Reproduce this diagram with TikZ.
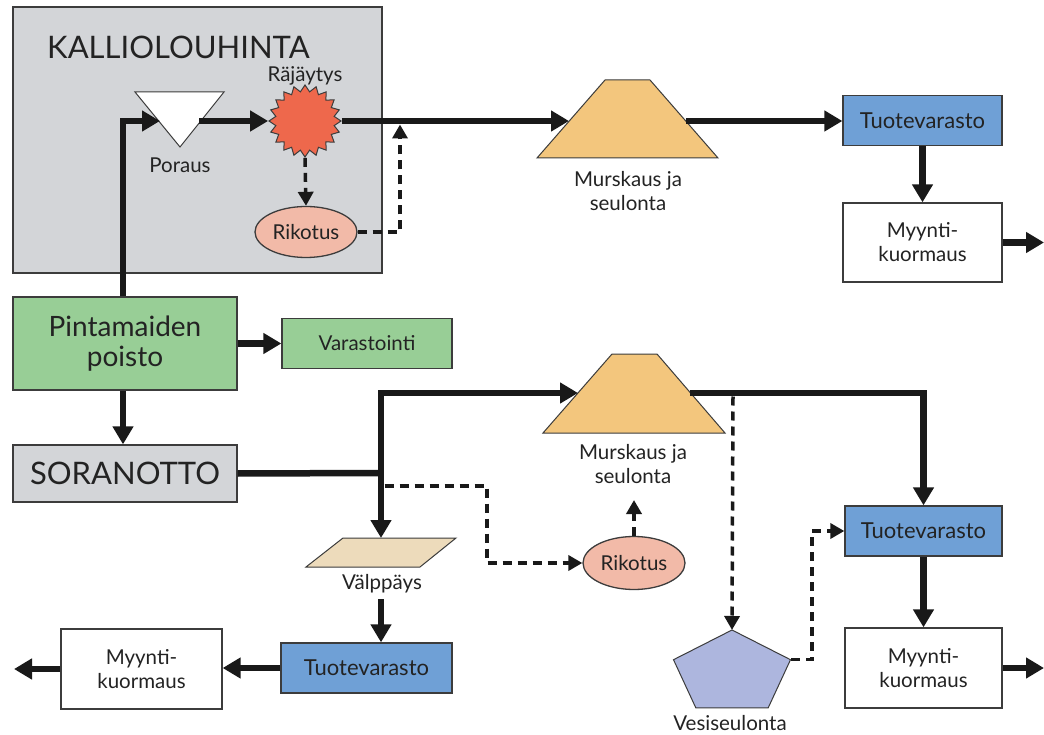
\documentclass[tikz,border=0pt]{standalone}
\usepackage{fontspec}
\setmainfont{Lato}
\usetikzlibrary{arrows.meta,shapes.geometric,calc}
\definecolor{bgray}{RGB}{211,213,216}
\definecolor{bgreen}{RGB}{152,206,150}
\definecolor{bblue}{RGB}{111,160,214}
\definecolor{borange}{RGB}{243,198,125}
\definecolor{bbeige}{RGB}{237,219,187}
\definecolor{bsalmon}{RGB}{242,186,168}
\definecolor{bstar}{RGB}{238,104,76}
\definecolor{bpent}{RGB}{173,182,222}
\definecolor{edge}{RGB}{60,60,60}
\definecolor{txt}{RGB}{35,35,35}
\definecolor{lineblk}{RGB}{25,25,25}
\begin{document}
\begin{tikzpicture}[x=1pt,y=-1pt,
  box/.style={draw=edge, line width=1.3pt, inner sep=0pt, text=txt, font=\fontsize{20.5}{24}\selectfont, align=center},
  tvbox/.style={box, fill=bblue, font=\fontsize{22}{24}\selectfont},
  lbl/.style={text=txt, font=\fontsize{20.5}{24}\selectfont, align=center, inner sep=0pt},
  shapeline/.style={draw=edge, line width=1pt},
  arr/.style={line width=6.5pt, draw=lineblk, -{Triangle[length=18pt,width=20pt]}},
  darr/.style={line width=3.5pt, draw=lineblk, dash pattern=on 9pt off 6pt, -{Triangle[length=14pt,width=15pt]}},
  plain/.style={line width=6.5pt, draw=lineblk},
]
\useasboundingbox (0,0) rectangle (1044,735);
\fill[white] (0,0) rectangle (1044,735);

% KALLIOLOUHINTA region
\node[box, fill=bgray, minimum width=369pt, minimum height=266pt] (kallio) at (197.5,140) {};
\node[anchor=base west, font=\fontsize{31}{36}\selectfont, text=txt, inner sep=0pt] (ktitle) at (47,59) {KALLIOLOUHINTA};

% Poraus triangle
\filldraw[fill=white, shapeline] (135,92) -- (224,92) -- (180,147) -- cycle;
\coordinate (porin) at (160,121);
\coordinate (porout) at (199,121);
\node[lbl] (porlbl) at (180,165) {Poraus};

% Rajaytys
\node[star, star points=20, star point ratio=1.22, minimum size=72pt, inner sep=0pt, fill=bstar, shapeline] (raj) at (305,121) {};
\node[lbl] (rajlbl) at (305,76) {Räjäytys};

% Rikotus 1
\node[box, ellipse, fill=bsalmon, minimum width=102pt, minimum height=51pt] (rik1) at (306,232) {Rikotus};
\coordinate (j1) at (400,124.5);

% Murskaus 1
\filldraw[fill=borange, shapeline] (605,80) -- (650,80) -- (718,158) -- (537,158) -- cycle;
\coordinate (m1in) at (569,121);
\coordinate (m1out) at (686,121);
\node[lbl] (m1lbl) at (628,191) {Murskaus ja\\seulonta};

% Tuotevarasto 1 / Myynti 1
\node[tvbox, minimum width=159pt, minimum height=50pt] (tv1) at (922.5,120.5) {Tuotevarasto};
\node[box, fill=white, minimum width=159pt, minimum height=79pt] (my1) at (922.5,242.5) {Myynti-\\kuormaus};
\coordinate (out1) at (1044,242.5);

% Pintamaiden poisto, Varastointi, SORANOTTO
\node[box, fill=bgreen, minimum width=224pt, minimum height=93pt, font=\fontsize{28}{30}\selectfont] (pint) at (125,343.5) {Pintamaiden\\poisto};
\node[box, fill=bgreen, minimum width=170pt, minimum height=50pt] (var) at (367,343.5) {Varastointi};
\node[box, fill=bgray, minimum width=224pt, minimum height=57pt, font=\fontsize{31}{36}\selectfont] (sora) at (125,473.5) {SORANOTTO};

% Murskaus 2
\filldraw[fill=borange, shapeline] (612,354) -- (657,354) -- (725,433) -- (543,433) -- cycle;
\coordinate (m2in) at (578,393);
\coordinate (m2out) at (690,393);
\node[lbl] (m2lbl) at (633,464) {Murskaus ja\\seulonta};
\coordinate (m2lblb) at (634,500);

% Valppays
\filldraw[fill=bbeige, shapeline] (343,538) -- (456,538) -- (420,567) -- (306,567) -- cycle;
\coordinate (valtop) at (381,538);
\node[lbl] (vallbl) at (382,584) {Välppäys};
\coordinate (valout) at (381,599);
\coordinate (jx) at (381,473);

% Rikotus 2
\node[box, ellipse, fill=bsalmon, minimum width=102pt, minimum height=53pt] (rik2) at (634,563) {Rikotus};
\coordinate (d2s) at (384.5,486);
\coordinate (d2c) at (487,486);

% Vesiseulonta pentagon
\filldraw[fill=bpent, shapeline] (732,630) -- (790.5,659.7) -- (768.2,707.8) -- (695.8,707.8) -- (673.5,659.7) -- cycle;
\coordinate (ptop) at (732,630);
\coordinate (pright) at (791,659.7);
\coordinate (vd) at (733,396.5);
\node[lbl] (pentlbl) at (730,723) {Vesiseulonta};

% Tuotevarasto 2 / Myynti 2
\node[tvbox, minimum width=157pt, minimum height=50pt] (tv2) at (923.5,531) {Tuotevarasto};
\node[box, fill=white, minimum width=157pt, minimum height=80pt] (my2) at (923.5,668) {Myynti-\\kuormaus};
\coordinate (out2) at (1044,668);

% Tuotevarasto 3 / Myynti 3
\node[tvbox, minimum width=171pt, minimum height=50pt] (tv3) at (366.5,668) {Tuotevarasto};
\node[box, fill=white, minimum width=161pt, minimum height=80pt] (my3) at (141.5,669) {Myynti-\\kuormaus};
\coordinate (out3) at (14,669);

% ---- connectors ----
\draw[arr] ([xshift=-2pt]pint.north) |- (porin);
\draw[arr] (porout) -- (raj.west);
\draw[arr] (raj.east) -- (m1in);
\draw[darr] (raj.south) -- (rik1.north);
\draw[darr] (rik1.east) -| (j1);
\draw[arr] (m1out) -- (m1out -| tv1.west);
\draw[arr] (tv1.south) -- (my1.north);
\draw[arr] (my1.east) -- (out1);

\draw[arr] (pint.east) -- (var.west);
\draw[arr] ([xshift=-2pt]pint.south) -- ([xshift=-2pt]sora.north);
\draw[plain] (sora.east) -- (jx);
\draw[{Triangle[length=18pt,width=20pt]}-{Triangle[length=18pt,width=20pt]}, line width=6.5pt, draw=lineblk] (m2in) -| (valtop);
\draw[arr] (m2out) -| (tv2.north);
\draw[darr] (vd) -- (ptop);
\draw[darr] (pright) -- ++(21,0) |- (tv2.west);
\draw[darr] (d2s) -- (d2c) |- (rik2.west);
\draw[darr] (rik2.north) -- (m2lblb);
\draw[arr] (tv2.south) -- (my2.north);
\draw[arr] (my2.east) -- (out2);

\draw[arr] (valout) -- (valout |- tv3.north);
\draw[arr] (tv3.west) -- (tv3.west -| my3.east);
\draw[arr] (my3.west) -- (out3);
\end{tikzpicture}
\end{document}
